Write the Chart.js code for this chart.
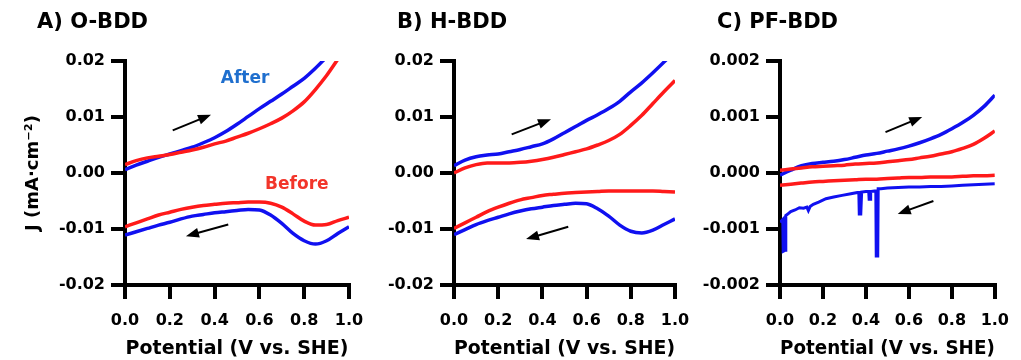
<!DOCTYPE html>
<html>
<head>
<meta charset="utf-8">
<script src="https://cdn.jsdelivr.net/npm/chart.js@4.4.1/dist/chart.umd.min.js"></script>
<style>
  body { margin: 0; background: #fff; }
  #wrap { position: relative; width: 1021px; height: 360px; }
  #wrap canvas { position: absolute; left: 0; top: 0; }
</style>
</head>
<body>
<div id="wrap">
  <canvas id="chartA" width="1021" height="360"></canvas>
  <canvas id="chartB" width="1021" height="360"></canvas>
  <canvas id="chartC" width="1021" height="360"></canvas>
</div>
<script>
// potential grid (V vs. SHE), shared by the smooth scans
const potential = [0, 0.05, 0.1, 0.15, 0.2, 0.25, 0.3, 0.35, 0.4, 0.45, 0.5,
  0.55, 0.6, 0.65, 0.7, 0.75, 0.8, 0.85, 0.9, 0.95, 1.0];

// A) O-BDD, current density (mA/cm2)
const aBeforeFwd = [0.0015, 0.0022, 0.0027, 0.0030, 0.0033, 0.0037, 0.0041, 0.0046, 0.0052, 0.0057, 0.0064,
  0.0071, 0.0079, 0.0088, 0.0098, 0.0111, 0.0127, 0.0149, 0.0174, 0.0203, null];
const aAfterFwd = [0.0006, 0.0014, 0.0021, 0.0028, 0.0034, 0.0040, 0.0046, 0.0054, 0.0063, 0.0074, 0.0087,
  0.0101, 0.0115, 0.0128, 0.0141, 0.0155, 0.0169, 0.0187, 0.0207, null, null];
const aBeforeRev = [-0.0096, -0.0089, -0.0082, -0.0075, -0.0070, -0.0065, -0.0061, -0.0058, -0.0056, -0.0054, -0.0053,
  -0.0052, -0.0052, -0.0054, -0.0061, -0.0073, -0.0086, -0.0093, -0.0092, -0.0085, -0.0079];
const aAfterRev = [-0.0111, -0.0105, -0.0099, -0.0093, -0.0088, -0.0082, -0.0077, -0.0074, -0.0071, -0.0069, -0.0067,
  -0.0065, -0.0066, -0.0075, -0.0090, -0.0108, -0.0121, -0.0127, -0.0121, -0.0108, -0.0096];

// B) H-BDD
const bBeforeFwd = [0.0000, 0.0009, 0.0015, 0.0018, 0.0018, 0.0018, 0.0019, 0.0021, 0.0024, 0.0028, 0.0033,
  0.0038, 0.0043, 0.0050, 0.0058, 0.0069, 0.0085, 0.0103, 0.0124, 0.0145, 0.0165];
const bAfterFwd = [0.0013, 0.0023, 0.0029, 0.0032, 0.0034, 0.0038, 0.0042, 0.0047, 0.0052, 0.0061, 0.0072,
  0.0083, 0.0094, 0.0104, 0.0115, 0.0128, 0.0145, 0.0161, 0.0179, 0.0198, 0.0218];
const bBeforeRev = [-0.0099, -0.0089, -0.0079, -0.0069, -0.0061, -0.0054, -0.0048, -0.0044, -0.0040, -0.0038, -0.0036,
  -0.0035, -0.0034, -0.0033, -0.0032, -0.0032, -0.0032, -0.0032, -0.0032, -0.0033, -0.0034];
const bAfterRev = [-0.0110, -0.0101, -0.0092, -0.0085, -0.0079, -0.0073, -0.0068, -0.0064, -0.0061, -0.0058, -0.0056,
  -0.0054, -0.0055, -0.0064, -0.0077, -0.0093, -0.0104, -0.0107, -0.0102, -0.0092, -0.0082];

// C) PF-BDD
const cBeforeFwd = [0.00005, 0.00007, 0.00009, 0.00011, 0.00012, 0.00013, 0.00014, 0.00016, 0.00017, 0.00018, 0.00020,
  0.00022, 0.00024, 0.00027, 0.00030, 0.00034, 0.00038, 0.00044, 0.00051, 0.00062, 0.00075];
const cAfterFwd = [-0.00004, 0.00005, 0.00013, 0.00017, 0.00019, 0.00021, 0.00024, 0.00028, 0.00032, 0.00035, 0.00039,
  0.00043, 0.00048, 0.00054, 0.00061, 0.00069, 0.00079, 0.00090, 0.00103, 0.00119, 0.00139];
const cBeforeRev = [-0.00022, -0.00020, -0.00018, -0.00016, -0.00015, -0.00014, -0.00013, -0.00012, -0.00011, -0.00011, -0.00010,
  -0.00009, -0.00008, -0.00008, -0.00007, -0.00007, -0.00007, -0.00006, -0.00005, -0.00005, -0.00004];
// noisy reverse scan after treatment has its own potentials (spikes)
const cAfterRevPotential = [0, 0.008, 0.013, 0.015, 0.025, 0.027, 0.04, 0.05, 0.07, 0.09, 0.11, 0.125, 0.132, 0.14,
  0.155, 0.18, 0.214, 0.25, 0.289, 0.33, 0.36, 0.367, 0.369, 0.376, 0.38, 0.40, 0.413, 0.415, 0.42, 0.422, 0.44,
  0.446, 0.448, 0.455, 0.457, 0.47, 0.5, 0.55, 0.6, 0.65, 0.7, 0.75, 0.8, 0.85, 0.9, 0.95, 1.0];
const cAfterRev = [-0.00088, -0.00085, -0.00083, -0.00140, -0.00138, -0.00076, -0.00072, -0.00069, -0.00066, -0.00062,
  -0.00063, -0.00061, -0.00067, -0.00060, -0.00056, -0.00052, -0.00046, -0.00043, -0.00040, -0.00037, -0.00035,
  -0.00035, -0.00073, -0.00073, -0.00034, -0.00033, -0.00033, -0.00047, -0.00047, -0.00033, -0.00032, -0.00032,
  -0.00148, -0.00148, -0.00028, -0.00028, -0.00027, -0.00026, -0.00025, -0.00025, -0.00024, -0.00024, -0.00023,
  -0.00022, -0.00021, -0.00020, -0.00019];

// scan-direction arrows and notes, in data units [x0, y0, x1, y1]
const aArrows = [[0.213, 0.0076, 0.384, 0.0104], [0.461, -0.0092, 0.272, -0.0113]];
const bArrows = [[0.261, 0.0069, 0.439, 0.0096], [0.517, -0.0096, 0.326, -0.0118]];
const cArrows = [[0.491, 0.00073, 0.662, 0.0010], [0.714, -0.00050, 0.548, -0.00073]];
const aNotes = [['After', 0.536, 0.0169, '#1f6fce'], ['Before', 0.767, -0.0021, '#f2352a']];

const RED = '#ff1a1a';
const BLUE = '#1010f0';
const FONT = '"DejaVu Sans", sans-serif';

const toPoints = (xs, ys) => xs.map((x, i) => ({ x: x, y: ys[i] }));

// draws the panel label, arrows and notes
const panelExtras = {
  id: 'panelExtras',
  afterDatasetsDraw(chart, args, opts) {
    const { ctx } = chart;
    const xs = chart.scales.x;
    const ys = chart.scales.y;
    ctx.save();
    ctx.fillStyle = '#000';
    ctx.font = 'bold 21px ' + FONT;
    ctx.textBaseline = 'middle';
    ctx.textAlign = 'left';
    ctx.fillText(opts.label, opts.labelX, 23);

    (opts.arrows || []).forEach(a => {
      const x0 = xs.getPixelForValue(a[0]), y0 = ys.getPixelForValue(a[1]);
      const x1 = xs.getPixelForValue(a[2]), y1 = ys.getPixelForValue(a[3]);
      const ang = Math.atan2(y1 - y0, x1 - x0);
      const head = 13, half = 5;
      ctx.strokeStyle = '#000';
      ctx.lineWidth = 2;
      ctx.beginPath();
      ctx.moveTo(x0, y0);
      ctx.lineTo(x1 - Math.cos(ang) * (head - 2), y1 - Math.sin(ang) * (head - 2));
      ctx.stroke();
      ctx.beginPath();
      ctx.moveTo(x1, y1);
      ctx.lineTo(x1 - Math.cos(ang) * head + Math.sin(ang) * half, y1 - Math.sin(ang) * head - Math.cos(ang) * half);
      ctx.lineTo(x1 - Math.cos(ang) * head - Math.sin(ang) * half, y1 - Math.sin(ang) * head + Math.cos(ang) * half);
      ctx.closePath();
      ctx.fill();
    });

    ctx.font = 'bold 17px ' + FONT;
    ctx.textAlign = 'center';
    (opts.notes || []).forEach(n => {
      ctx.fillStyle = n[3];
      ctx.fillText(n[0], xs.getPixelForValue(n[1]), ys.getPixelForValue(n[2]));
    });
    ctx.restore();
  }
};

function makePanel(id, cfg) {
  const line = (data, color, extra) => Object.assign({
    data: data,
    borderColor: color,
    borderWidth: 3.5,
    pointRadius: 0,
    fill: false,
    cubicInterpolationMode: 'monotone'
  }, extra || {});

  return new Chart(document.getElementById(id), {
    type: 'line',
    data: { datasets: cfg.datasets.map(d => line(d[0], d[1], d[2])) },
    plugins: [panelExtras],
    options: {
      responsive: false,
      animation: false,
      events: [],
      layout: { padding: { left: cfg.left, right: 1021 - cfg.right, top: 61, bottom: 0 } },
      plugins: {
        legend: { display: false },
        tooltip: { enabled: false },
        panelExtras: { label: cfg.label, labelX: cfg.labelX, arrows: cfg.arrows, notes: cfg.notes }
      },
      scales: {
        x: {
          type: 'linear',
          min: 0,
          max: 1,
          ticks: {
            stepSize: 0.2,
            padding: 12,
            color: '#000',
            font: { family: FONT, size: 16, weight: 'bold' },
            callback: v => Number(v).toFixed(1)
          },
          grid: { drawOnChartArea: false, drawTicks: true, tickLength: 14, color: '#000', lineWidth: 4 },
          border: { display: true, color: '#000', width: 4 },
          title: {
            display: true,
            text: 'Potential (V vs. SHE)',
            color: '#000',
            font: { family: FONT, size: 19, weight: 'bold' },
            padding: { top: 0, bottom: 0 }
          },
          afterFit: s => { s.height = 75; }
        },
        y: {
          min: cfg.yMax * -1,
          max: cfg.yMax,
          ticks: {
            stepSize: cfg.yMax / 2,
            padding: 6,
            color: '#000',
            font: { family: FONT, size: 16, weight: 'bold' },
            callback: v => Number(v).toFixed(cfg.digits)
          },
          grid: { drawOnChartArea: false, drawTicks: true, tickLength: 14, color: '#000', lineWidth: 4 },
          border: { display: true, color: '#000', width: 4 },
          title: {
            display: !!cfg.yTitle,
            text: cfg.yTitle || '',
            color: '#000',
            font: { family: FONT, size: 18, weight: 'bold' },
            padding: { top: 3, bottom: 0 }
          },
          afterFit: s => { s.width = cfg.axisX - cfg.left; }
        }
      }
    }
  });
}

makePanel('chartA', {
  label: 'A) O-BDD', labelX: 37, left: 20, axisX: 125, right: 349, yMax: 0.02, digits: 2,
  yTitle: 'J (mA·cm⁻²)', arrows: aArrows, notes: aNotes,
  datasets: [
    [toPoints(potential, aBeforeFwd), RED],
    [toPoints(potential, aBeforeRev), RED],
    [toPoints(potential, aAfterFwd), BLUE],
    [toPoints(potential, aAfterRev), BLUE]
  ]
});

makePanel('chartB', {
  label: 'B) H-BDD', labelX: 397, left: 340, axisX: 454, right: 675, yMax: 0.02, digits: 2,
  arrows: bArrows,
  datasets: [
    [toPoints(potential, bBeforeFwd), RED],
    [toPoints(potential, bBeforeRev), RED],
    [toPoints(potential, bAfterFwd), BLUE],
    [toPoints(potential, bAfterRev), BLUE]
  ]
});

makePanel('chartC', {
  label: 'C) PF-BDD', labelX: 717, left: 680, axisX: 780, right: 1004, yMax: 0.002, digits: 3,
  arrows: cArrows,
  datasets: [
    [toPoints(potential, cBeforeFwd), RED],
    [toPoints(potential, cBeforeRev), RED],
    [toPoints(potential, cAfterFwd), BLUE],
    [toPoints(cAfterRevPotential, cAfterRev), BLUE, { cubicInterpolationMode: 'default', tension: 0, borderWidth: 3 }]
  ]
});
</script>
</body>
</html>
